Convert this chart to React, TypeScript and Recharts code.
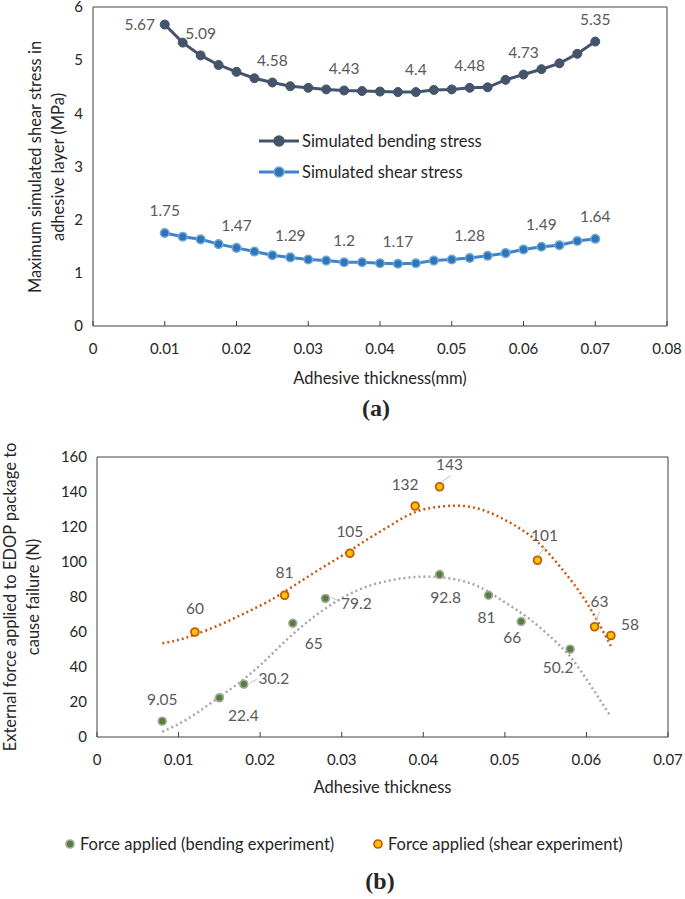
import React from 'react';
import {
  LineChart,
  Line,
  XAxis,
  YAxis,
  ReferenceArea,
  Legend,
  ComposedChart,
  Scatter,
} from 'recharts';

// ---- chart (a): simulated stresses ----
const THICKNESS = [
  0.01, 0.0125, 0.015, 0.0175, 0.02, 0.0225, 0.025, 0.0275, 0.03, 0.0325, 0.035, 0.0375, 0.04,
  0.0425, 0.045, 0.0475, 0.05, 0.0525, 0.055, 0.0575, 0.06, 0.0625, 0.065, 0.0675, 0.07,
];
const BENDING_STRESS = [
  5.67, 5.33, 5.09, 4.91, 4.78, 4.66, 4.58, 4.51, 4.48, 4.45, 4.43, 4.42, 4.41, 4.4, 4.4, 4.44,
  4.45, 4.48, 4.49, 4.63, 4.73, 4.83, 4.94, 5.12, 5.35,
];
const SHEAR_STRESS = [
  1.75, 1.68, 1.63, 1.54, 1.47, 1.4, 1.33, 1.29, 1.25, 1.23, 1.2, 1.2, 1.18, 1.17, 1.18, 1.23,
  1.25, 1.28, 1.32, 1.37, 1.44, 1.49, 1.52, 1.6, 1.64,
];
const BENDING_LABELED = [0, 2, 6, 10, 14, 17, 20, 24];
const SHEAR_LABELED = [0, 4, 7, 10, 13, 17, 21, 24];
const X_TICKS_A = [0, 0.01, 0.02, 0.03, 0.04, 0.05, 0.06, 0.07, 0.08];
const Y_TICKS_A = [0, 1, 2, 3, 4, 5, 6];

// ---- chart (b): experiments ----
const BEND_EXP_X = [0.008, 0.015, 0.018, 0.024, 0.028, 0.042, 0.048, 0.052, 0.058];
const BEND_EXP_F = [9.05, 22.4, 30.2, 65, 79.2, 92.8, 81, 66, 50.2];
const SHEAR_EXP_X = [0.012, 0.023, 0.031, 0.039, 0.042, 0.054, 0.061, 0.063];
const SHEAR_EXP_F = [60, 81, 105, 132, 143, 101, 63, 58];

// dotted trendlines
const BEND_TREND_X = [
  0.008, 0.011, 0.014, 0.017, 0.02, 0.023, 0.026, 0.029, 0.032, 0.035, 0.038, 0.041, 0.044, 0.047,
  0.05, 0.053, 0.056, 0.058, 0.06, 0.063,
];
const BEND_TREND_F = [
  3, 10, 19.5, 29.5, 41, 54.5, 66.5, 76.5, 84, 88.5, 91, 91.6, 90, 85.5, 77, 67.5, 55.5, 46, 33,
  11.6,
];
const SHEAR_TREND_X = [
  0.008, 0.01, 0.012, 0.015, 0.018, 0.021, 0.024, 0.027, 0.03, 0.033, 0.036, 0.039, 0.042, 0.045,
  0.048, 0.051, 0.054, 0.057, 0.06, 0.063,
];
const SHEAR_TREND_F = [
  53.5, 55.5, 58.5, 64, 70.5, 77.5, 86, 95, 103.5, 112.5, 121, 128.5, 131.6, 132, 128.5, 121.5,
  111.5, 96, 77, 52,
];
const X_TICKS_B = [0, 0.01, 0.02, 0.03, 0.04, 0.05, 0.06, 0.07];
const Y_TICKS_B = [0, 20, 40, 60, 80, 100, 120, 140, 160];

// where each data label sits relative to its marker (px)
const BEND_LABEL_POS = [[0, -22], [24, 18], [30, -6], [21, 20], [31, 5], [6, 23], [-2, 22], [-9, 16], [-12, 18]];
const SHEAR_LABEL_POS = [[0, -23], [0, -23], [0, -22], [-10, -21], [10, -22], [7, -25], [5, -25], [19, -11]];
const BEND_LEADERS: Record<number, number[]> = { 2: [6, -1, 13, -5], 4: [6, -1, 14, 3] };
const SHEAR_LEADERS: Record<number, number[]> = { 4: [2, -5, 11, -11], 5: [1, -5, 8, -13], 6: [1, -6, 5, -15] };

const FONT = 'Lato, "Open Sans", sans-serif';
const SERIF = '"Liberation Serif", "Times New Roman", serif';
const TEXT_DARK = '#262626';
const TEXT_GREY = '#595959';
const AXIS = '#404040';
const TICK_GAP = 17; // tickSize + tickMargin of the x axes

const stressData = THICKNESS.map((x, i) => ({ x, bending: BENDING_STRESS[i], shear: SHEAR_STRESS[i] }));
const bendExp = BEND_EXP_X.map((x, i) => ({ x, f: BEND_EXP_F[i] }));
const shearExp = SHEAR_EXP_X.map((x, i) => ({ x, f: SHEAR_EXP_F[i] }));
const bendTrend = BEND_TREND_X.map((x, i) => ({ x, f: BEND_TREND_F[i] }));
const shearTrend = SHEAR_TREND_X.map((x, i) => ({ x, f: SHEAR_TREND_F[i] }));

// x ticks: label below, short tick mark pointing into the plot
const XTick = (props: any) => {
  const { x, y, payload } = props;
  return (
    <g>
      <line x1={x} x2={x} y1={y - TICK_GAP} y2={y - TICK_GAP - 5} stroke={AXIS} />
      <text x={x} y={y} dy="0.71em" textAnchor="middle" fill={TEXT_DARK} fontSize={15}>
        {payload.value}
      </text>
    </g>
  );
};

const stressDot =
  (key: 'bending' | 'shear', labeled: number[], fill: string, stroke: string, r: number, sw: number) =>
  (props: any) => {
    const { cx, cy, index, payload } = props;
    const onLeft = key === 'bending' && index === 0;
    return (
      <g key={`${key}-${index}`}>
        <circle cx={cx} cy={cy} r={r} fill={fill} stroke={stroke} strokeWidth={sw} />
        {labeled.includes(index) && (
          <text
            x={onLeft ? cx - 25 : cx}
            y={onLeft ? cy : cy - 22}
            dy="0.35em"
            textAnchor="middle"
            fill={TEXT_GREY}
            fontSize={15.5}
          >
            {payload[key]}
          </text>
        )}
      </g>
    );
  };

const expShape =
  (xs: number[], pos: number[][], leaders: Record<number, number[]>, fill: string, stroke: string, r: number, sw: number) =>
  (props: any) => {
    const { cx, cy, payload } = props;
    const i = props.index ?? xs.indexOf(payload.x);
    const [dx, dy] = pos[i] || [0, -22];
    const ld = leaders[i];
    return (
      <g>
        {ld && (
          <line x1={cx + ld[0]} y1={cy + ld[1]} x2={cx + ld[2]} y2={cy + ld[3]} stroke="#bfbfbf" strokeWidth={1} />
        )}
        <circle cx={cx} cy={cy} r={r} fill={fill} stroke={stroke} strokeWidth={sw} />
        <text x={cx + dx} y={cy + dy} dy="0.35em" textAnchor="middle" fill={TEXT_GREY} fontSize={15.5}>
          {payload.f}
        </text>
      </g>
    );
  };

const legendA = () => (
  <div style={{ fontSize: 16.5, color: TEXT_DARK, fontFamily: FONT }}>
    {[
      { name: 'Simulated bending stress', line: '#44546a', fill: '#44546a', stroke: '#44546a' },
      { name: 'Simulated shear stress', line: '#3f84ca', fill: '#2e75b6', stroke: '#6fa8dc' },
    ].map((it) => (
      <div key={it.name} style={{ display: 'flex', alignItems: 'center', height: 31 }}>
        <svg width={40} height={14} style={{ marginRight: 3 }}>
          <line x1={0} x2={40} y1={7} y2={7} stroke={it.line} strokeWidth={3} />
          <circle cx={20} cy={7} r={5} fill={it.fill} stroke={it.stroke} strokeWidth={1.5} />
        </svg>
        <span>{it.name}</span>
      </div>
    ))}
  </div>
);

const legendB = () => (
  <div style={{ position: 'relative', width: 685, height: 20, fontSize: 16.5, color: TEXT_DARK, fontFamily: FONT }}>
    {[
      { name: 'Force applied (bending experiment)', left: 64, fill: '#548235', stroke: '#a5a5a5' },
      { name: 'Force applied (shear experiment)', left: 372, fill: '#ffc000', stroke: '#c55a11' },
    ].map((it) => (
      <div
        key={it.name}
        style={{ position: 'absolute', left: it.left, top: 0, height: 20, display: 'flex', alignItems: 'center' }}
      >
        <svg width={12} height={12} style={{ marginRight: 4 }}>
          <circle cx={6} cy={6} r={4} fill={it.fill} stroke={it.stroke} strokeWidth={1.7} />
        </svg>
        <span>{it.name}</span>
      </div>
    ))}
  </div>
);

const abs = (left: number, top: number, rotate = false): React.CSSProperties => ({
  position: 'absolute',
  left,
  top,
  transform: `translate(-50%, -50%)${rotate ? ' rotate(-90deg)' : ''}`,
  whiteSpace: 'nowrap',
  textAlign: 'center',
});

export default function App() {
  return (
    <div
      style={{
        position: 'absolute',
        left: 0,
        top: 0,
        width: 685,
        height: 899,
        background: '#fff',
        fontFamily: FONT,
        color: TEXT_DARK,
      }}
    >
      <div style={{ position: 'absolute', left: 0, top: 0 }}>
        <LineChart width={685} height={360} data={stressData} margin={{ top: 7, right: 18, bottom: 0, left: 0 }}>
          <XAxis
            type="number"
            dataKey="x"
            domain={[0, 0.08]}
            ticks={X_TICKS_A}
            interval={0}
            tick={(p: any) => <XTick {...p} />}
            tickLine={false}
            axisLine={false}
            tickSize={6}
            tickMargin={11}
            height={34}
          />
          <YAxis
            type="number"
            domain={[0, 6]}
            ticks={Y_TICKS_A}
            interval={0}
            width={93}
            tickLine={false}
            axisLine={false}
            tickSize={6}
            tickMargin={4}
            tick={{ fill: TEXT_DARK, fontSize: 15 }}
          />
          <ReferenceArea x1={0} x2={0.08} y1={0} y2={6} fill="none" stroke={AXIS} strokeWidth={1} ifOverflow="visible" />
          <Line
            dataKey="bending"
            stroke="#44546a"
            strokeWidth={3}
            dot={stressDot('bending', BENDING_LABELED, '#44546a', '#44546a', 4.5, 1)}
            isAnimationActive={false}
          />
          <Line
            dataKey="shear"
            stroke="#3f84ca"
            strokeWidth={3}
            dot={stressDot('shear', SHEAR_LABELED, '#2e75b6', '#6fa8dc', 4.3, 1.5)}
            isAnimationActive={false}
          />
          <Legend
            layout="horizontal"
            verticalAlign="middle"
            align="center"
            content={legendA}
            wrapperStyle={{ left: 259, top: 125, width: 260 }}
          />
        </LineChart>
      </div>

      <div style={{ ...abs(46.5, 166.5, true), fontSize: 16.5, lineHeight: '23px' }}>
        Maximum simulated shear stress in
        <br />
        adhesive layer (MPa)
      </div>
      <div style={{ ...abs(380, 378), fontSize: 16.5 }}>Adhesive thickness(mm)</div>
      <div style={{ ...abs(376, 408), fontFamily: SERIF, fontWeight: 'bold', fontSize: 24 }}>(a)</div>

      <div style={{ position: 'absolute', left: 0, top: 440 }}>
        <ComposedChart width={685} height={420} margin={{ top: 17, right: 17, bottom: 90, left: 0 }}>
          <XAxis
            type="number"
            dataKey="x"
            domain={[0, 0.07]}
            ticks={X_TICKS_B}
            interval={0}
            tick={(p: any) => <XTick {...p} />}
            tickLine={false}
            axisLine={false}
            tickSize={6}
            tickMargin={11}
            height={33}
          />
          <YAxis
            type="number"
            dataKey="f"
            domain={[0, 160]}
            ticks={Y_TICKS_B}
            interval={0}
            width={97}
            tickLine={false}
            axisLine={false}
            tickSize={6}
            tickMargin={4}
            tick={{ fill: TEXT_DARK, fontSize: 15 }}
          />
          <ReferenceArea x1={0} x2={0.07} y1={0} y2={160} fill="none" stroke={AXIS} strokeWidth={1} ifOverflow="visible" />
          <Line
            data={bendTrend}
            dataKey="f"
            type="natural"
            stroke="#a6a6a6"
            strokeWidth={2.5}
            strokeDasharray="2 3"
            dot={false}
            isAnimationActive={false}
          />
          <Line
            data={shearTrend}
            dataKey="f"
            type="natural"
            stroke="#c55a11"
            strokeWidth={2.5}
            strokeDasharray="2 3"
            dot={false}
            isAnimationActive={false}
          />
          <Scatter
            data={bendExp}
            dataKey="f"
            shape={expShape(BEND_EXP_X, BEND_LABEL_POS, BEND_LEADERS, '#548235', '#a5a5a5', 3.9, 1.7)}
            isAnimationActive={false}
          />
          <Scatter
            data={shearExp}
            dataKey="f"
            shape={expShape(SHEAR_EXP_X, SHEAR_LABEL_POS, SHEAR_LEADERS, '#ffc000', '#c55a11', 3.9, 1.8)}
            isAnimationActive={false}
          />
          <Legend
            layout="horizontal"
            verticalAlign="middle"
            align="center"
            content={legendB}
            wrapperStyle={{ left: 0, top: 394, width: 685 }}
          />
        </ComposedChart>
      </div>

      <div style={{ ...abs(21.5, 597, true), fontSize: 16.5, lineHeight: '23px' }}>
        External force applied to EDOP package to
        <br />
        cause failure (N)
      </div>
      <div style={{ ...abs(382.5, 787), fontSize: 16.5 }}>Adhesive thickness</div>
      <div style={{ ...abs(380, 881), fontFamily: SERIF, fontWeight: 'bold', fontSize: 24 }}>(b)</div>
    </div>
  );
}
